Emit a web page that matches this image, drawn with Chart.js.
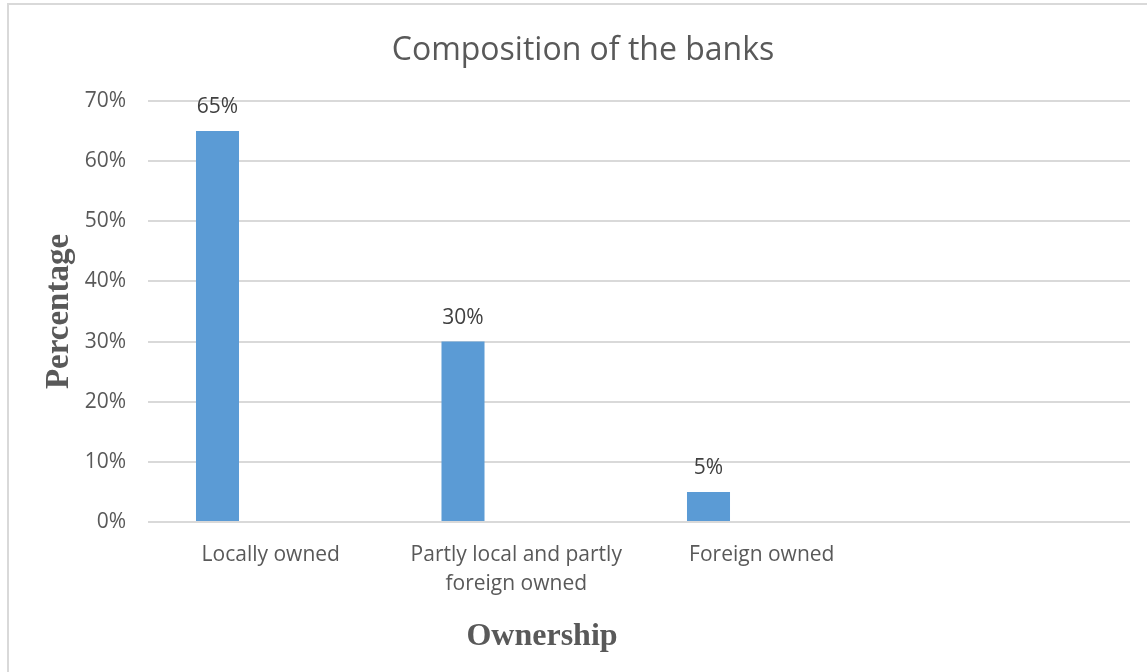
<!DOCTYPE html>
<html>
<head>
<meta charset="utf-8">
<script src="https://cdn.jsdelivr.net/npm/chart.js@4"></script>
<style>
  html, body { margin: 0; padding: 0; background: #fff; }
  #frame {
    position: absolute; left: 7px; top: 3px; width: 1160px; height: 700px;
    border: 2px solid #d9d9d9; box-sizing: border-box;
  }
  #wrap { position: absolute; left: 0; top: 0; width: 1147px; height: 672px; }
</style>
</head>
<body>
<div id="frame"></div>
<div id="wrap"><canvas id="bankChart" width="1147" height="672"></canvas></div>
<script>
const categories = [
  "Locally owned",
  ["Partly local and partly", "foreign owned"],
  "Foreign owned",
  ""
];
const shareValues = [65, 30, 5, null];
const emptySeries = [null, null, null, null];
const yTickLabels = ["0%", "10%", "20%", "30%", "40%", "50%", "60%", "70%"];

const textGrey = "#595959";

// value labels above each bar
const barLabels = {
  id: "barLabels",
  afterDatasetsDraw(chart) {
    const ctx = chart.ctx;
    const meta = chart.getDatasetMeta(0);
    ctx.save();
    ctx.font = "21px 'Open Sans'";
    ctx.fillStyle = "#404040";
    ctx.textAlign = "center";
    ctx.textBaseline = "middle";
    meta.data.forEach((bar, i) => {
      const v = shareValues[i];
      if (v == null) return;
      ctx.fillText(v + "%", bar.x, bar.y - 24);
    });
    ctx.restore();
  },
};

// x axis title sits left of the plot centre in the original
const xTitle = {
  id: "xTitle",
  afterDraw(chart) {
    const ctx = chart.ctx;
    ctx.save();
    ctx.font = "bold 32px 'Liberation Serif'";
    ctx.fillStyle = textGrey;
    ctx.textAlign = "center";
    ctx.textBaseline = "middle";
    ctx.fillText("Ownership", 542, 637);
    ctx.restore();
  },
};

new Chart(document.getElementById("bankChart"), {
  type: "bar",
  data: {
    labels: categories,
    datasets: [
      {
        label: "Share",
        data: shareValues,
        backgroundColor: "#5B9BD5",
        borderWidth: 0,
        categoryPercentage: 0.8676,
        barPercentage: 0.404,
      },
      {
        label: "Empty",
        data: emptySeries,
        backgroundColor: "#ED7D31",
        categoryPercentage: 0.8676,
        barPercentage: 0.404,
      },
    ],
  },
  options: {
    responsive: false,
    animation: false,
    layout: {
      padding: { left: 36, right: 17, top: 0, bottom: 0 },
    },
    plugins: {
      legend: { display: false },
      tooltip: { enabled: false },
      title: {
        display: true,
        text: "Composition of the banks",
        color: textGrey,
        font: { family: "'Open Sans'", size: 32, weight: "normal", lineHeight: 1.2 },
        padding: { top: 32, bottom: 30.6 },
      },
    },
    scales: {
      x: {
        grid: { display: false, drawTicks: false },
        border: { display: false },
        ticks: {
          color: textGrey,
          font: { family: "'Open Sans'", size: 21, lineHeight: 1.4 },
          padding: 18,
          maxRotation: 0,
          autoSkip: false,
        },
        afterFit(scale) {
          scale.height = 150;
        },
      },
      y: {
        min: 0,
        max: 70,
        grid: { color: "#d9d9d9", lineWidth: 2, drawTicks: false },
        border: { display: false },
        ticks: {
          stepSize: 10,
          color: textGrey,
          font: { family: "'Open Sans'", size: 21 },
          padding: 22,
          callback: (v) => yTickLabels[v / 10],
        },
        title: {
          display: true,
          text: "Percentage",
          color: textGrey,
          font: { family: "'Liberation Serif'", size: 33, weight: "bold", lineHeight: 1.2 },
          padding: { top: 4, bottom: 0 },
        },
        afterFit(scale) {
          scale.width = 112;
        },
      },
    },
  },
  plugins: [barLabels, xTitle],
});
</script>
</body>
</html>
